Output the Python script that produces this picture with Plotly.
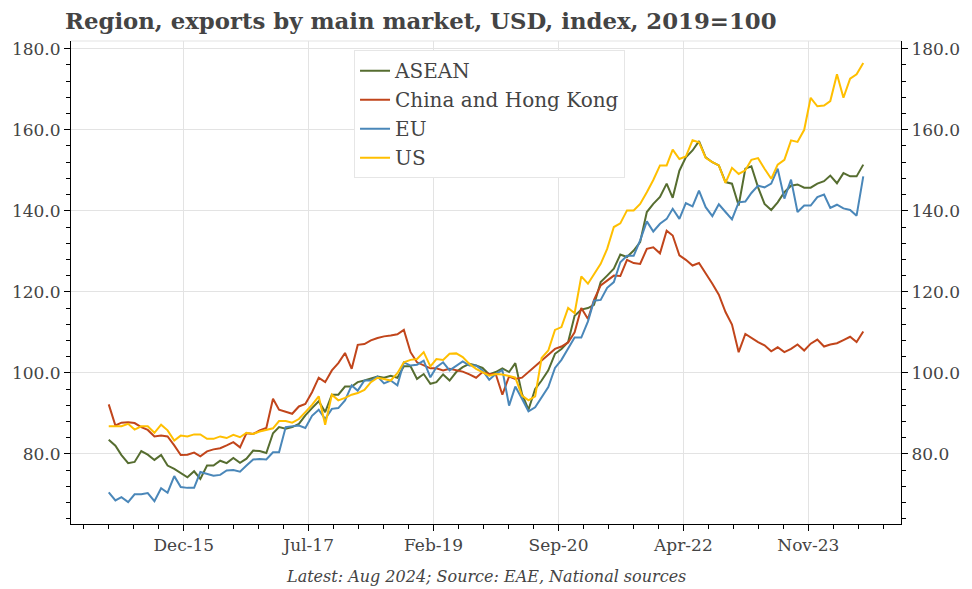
import pandas as pd
import plotly.graph_objects as go

# ---------------- data (monthly, Jan 2015 - Aug 2024) ----------------
start_month = "2015-01-01"
n_months = 116

asean = [83.5, 82.0, 79.7, 77.7, 78.0, 80.7, 79.8, 78.5, 79.7, 77.1, 76.3, 75.2, 74.2, 75.7, 73.8, 77.1,
         77.1, 78.3, 77.7, 79.0, 77.8, 78.8, 80.8, 80.7, 80.2, 85.1, 86.6, 86.2, 86.6, 87.4, 89.5, 91.3,
         93.0, 90.3, 94.6, 94.6, 96.6, 96.6,
         97.7, 98.1, 98.5, 99.1, 98.8, 99.3, 98.8, 101.6, 101.6, 98.5, 99.7, 97.3, 97.7, 99.6, 98.1,
         100.2, 101.4, 102.2, 101.8,
         101.2, 99.6, 100.2, 101.1, 100.2, 102.4, 94.8, 90.9, 96.0, 98.1, 100.6, 104.7, 105.9, 107.6,
         114.1, 115.6, 116.0, 116.8,
         122.4, 124.0, 125.7, 129.2, 128.6, 130.2, 132.3, 139.7, 141.7, 143.4, 146.7, 143.2,
         149.9, 153.2, 154.9, 157.2, 153.2, 152.0, 151.2, 147.1, 146.7, 141.3, 150.4, 151.0, 145.8,
         141.7, 140.2, 142.1, 144.6, 146.2, 146.5, 145.7, 145.7, 146.7, 147.3, 148.7, 146.8, 149.3,
         148.5, 148.5, 151.4]

china_hk = [92.2, 87.0, 87.7, 87.8, 87.6, 86.6, 85.9, 84.3, 84.5, 84.3, 82.1, 79.7, 79.8, 80.3, 79.4, 80.6,
            81.1, 81.4, 82.1, 82.9, 81.6, 85.1, 84.9, 85.8, 86.4, 93.6, 90.9, 90.4, 89.9, 91.7, 92.3, 95.2,
            98.8, 97.7, 100.6, 102.4, 104.9, 101.0,
            106.9, 107.1, 108.0, 108.6, 109.0, 109.2, 109.5, 110.6, 105.1, 102.6, 101.8, 101.1, 101.1,
            100.6, 101.0, 100.6, 100.3, 99.6, 98.8,
            100.2, 99.7, 99.7, 94.6, 99.1, 98.5, 98.8, 100.2, 101.4, 102.9, 104.3, 105.9, 106.5, 107.5,
            110.0, 116.0, 113.3, 118.0,
            121.6, 122.8, 124.0, 123.9, 127.9, 127.1, 126.9, 130.6, 131.0, 129.5, 135.1, 133.9,
            129.0, 127.9, 126.5, 127.1, 124.6, 122.0, 119.3, 115.0, 111.9, 105.1, 109.6, 108.6, 107.6,
            106.8, 105.3, 106.3, 105.1, 105.9, 107.0, 105.5, 107.2, 108.2, 106.5, 107.0, 107.3, 108.1,
            108.9, 107.6, 110.2]

eu = [70.5, 68.5, 69.3, 68.1, 70.0, 70.0, 70.3, 68.3, 71.5, 70.4, 74.5, 71.8, 71.6, 71.6, 75.5, 75.1,
      74.6, 74.8, 75.9, 76.0, 75.6, 77.1, 78.6, 78.7, 78.6, 80.4, 80.4, 86.6, 86.8, 87.0, 86.4, 89.4,
      90.9, 88.6, 91.1, 91.3, 93.2, 96.9,
      95.6, 98.1, 98.1, 99.1, 97.4, 98.1, 96.9, 102.6, 101.8, 102.0, 103.0, 98.9, 101.4, 102.6, 100.6,
      101.8, 102.8, 101.8, 101.8,
      100.6, 98.3, 99.7, 100.7, 91.9, 96.6, 93.6, 90.5, 91.5, 94.0, 96.5, 101.2, 103.2, 106.0,
      108.7, 108.7, 112.7, 117.8,
      118.0, 121.0, 122.4, 127.3, 128.9, 128.9, 132.7, 137.4, 134.9, 136.8, 138.0, 140.5,
      138.0, 141.9, 141.1, 145.0, 140.9, 138.7, 141.6, 139.7, 137.9, 142.1, 142.3, 144.4, 146.2,
      145.8, 146.7, 150.4, 143.0, 147.7, 139.7, 141.3, 141.3, 143.4, 144.0, 140.7, 141.5, 140.6,
      140.2, 138.8, 148.5]

us = [86.8, 86.8, 86.8, 87.4, 86.0, 86.8, 86.8, 85.2, 87.2, 85.8, 83.3, 84.5, 84.3, 84.8, 84.8, 83.7,
      83.7, 84.3, 83.9, 84.7, 84.1, 85.2, 84.9, 85.5, 85.9, 86.3, 88.1, 88.1, 87.7, 88.6, 90.3, 92.1,
      94.2, 87.2, 94.6, 93.2, 93.8, 94.6,
      95.0, 95.8, 97.7, 98.8, 98.5, 98.1, 99.9, 102.6, 103.2, 103.4, 105.1, 101.6, 103.4, 103.2, 104.7,
      104.8, 103.9, 102.2, 101.0,
      100.2, 99.3, 99.7, 99.6, 99.2, 98.8, 94.4, 93.2, 94.2, 103.7, 105.5, 110.6, 111.3, 116.0,
      114.7, 123.8, 122.0, 124.4,
      126.9, 130.6, 136.0, 136.9, 140.1, 140.1, 141.7, 144.6, 147.6, 151.2, 151.2, 155.1,
      152.8, 153.4, 157.4, 156.9, 153.1, 152.0, 151.2, 146.9, 150.6, 149.1, 150.0, 152.6, 153.0,
      150.4, 147.9, 151.4, 152.6, 157.4, 157.0, 160.0, 167.9, 165.8, 166.0, 167.1, 173.7, 167.9,
      172.6, 173.7, 176.5]

series_names = ["ASEAN", "China and Hong Kong", "EU", "US"]
x_tick_labels = ["Dec-15", "Jul-17", "Feb-19", "Sep-20", "Apr-22", "Nov-23"]
y_tick_values = [80, 100, 120, 140, 160, 180]

title_text = "Region, exports by main market, USD, index, 2019=100"
caption_text = "Latest: Aug 2024; Source: EAE, National sources"

# ---------------- styling ----------------
colors = ["#566d30", "#c1451b", "#4a87b9", "#ffbf00"]
FONT = "Georgia, 'DejaVu Serif', serif"
TXT = "#444444"
GRID = "#e3e3e3"

dates = pd.date_range(start_month, periods=n_months, freq="MS")
span = dates[-1] - dates[0]
x_range = [dates[0] - span * 0.05, dates[-1] + span * 0.05]

# tick positions (evenly spaced, ~19 months apart)
first_tick = pd.Timestamp("2015-12-15")
step = pd.Timedelta(days=579.4)
major_ticks = [first_tick + step * k for k in range(len(x_tick_labels))]
minor_ticks = [first_tick + step / 5 * k for k in range(-5, 30)]
minor_ticks = [t for t in minor_ticks if x_range[0] <= t <= x_range[1]]

all_vals = asean + china_hk + eu + us
vmin, vmax = min(all_vals), max(all_vals)
y_range = [vmin - 0.05 * (vmax - vmin), vmax + 0.05 * (vmax - vmin)]

fig = go.Figure()
for name, vals, col in zip(series_names, [asean, china_hk, eu, us], colors):
    fig.add_trace(go.Scatter(x=dates, y=vals, mode="lines", name=name,
                             line=dict(color=col, width=2)))
# invisible trace for the mirrored right axis
fig.add_trace(go.Scatter(x=dates, y=us, mode="lines", yaxis="y2", showlegend=False,
                         line=dict(width=0, color="rgba(0,0,0,0)"), hoverinfo="skip"))

axis_common = dict(showline=True, linecolor="black", linewidth=1, ticks="outside",
                   ticklen=6, tickcolor="black", tickfont=dict(family=FONT, size=17, color=TXT),
                   zeroline=False)

fig.update_layout(
    width=972, height=589,
    margin=dict(l=66, r=65, t=41, b=65),
    paper_bgcolor="white", plot_bgcolor="white",
    font=dict(family=FONT, color=TXT),
    title=dict(text="<b>" + title_text + "</b>", x=65 / 972, xanchor="left",
               y=1 - 21 / 589, yanchor="middle", yref="container",
               font=dict(family=FONT, size=22.8, color=TXT)),
    xaxis=dict(type="date", range=x_range, tickmode="array", tickvals=major_ticks,
               ticktext=x_tick_labels, showgrid=True, gridcolor=GRID, gridwidth=1,
               minor=dict(tickmode="array", tickvals=minor_ticks, ticks="outside", ticklen=4,
                          tickcolor="black", showgrid=False),
               **axis_common),
    yaxis=dict(range=y_range, tickmode="array", tickvals=y_tick_values, tickformat=".1f",
               showgrid=True, gridcolor=GRID, gridwidth=1,
               minor=dict(dtick=4, tick0=0, ticks="outside", ticklen=4, tickcolor="black",
                          showgrid=False),
               **axis_common),
    yaxis2=dict(range=y_range, overlaying="y", side="right", tickmode="array",
                tickvals=y_tick_values, tickformat=".1f", showgrid=False,
                minor=dict(dtick=4, tick0=0, ticks="outside", ticklen=4, tickcolor="black",
                           showgrid=False),
                **axis_common),
    legend=dict(x=0.341, y=0.981, xanchor="left", yanchor="top",
                bgcolor="white", bordercolor="#e6e6e6", borderwidth=1,
                font=dict(family=FONT, size=20, color=TXT), itemwidth=30),
    showlegend=True,
)

# light top border
fig.add_shape(type="line", xref="paper", yref="paper", x0=0, x1=1, y0=1, y1=1,
              line=dict(color=GRID, width=1))

fig.add_annotation(text="<i>" + caption_text + "</i>", xref="paper", yref="paper",
                   x=0.5, y=-(577 - 524) / 483.3, xanchor="center", yanchor="middle",
                   showarrow=False, font=dict(family=FONT, size=16, color=TXT))

fig.write_html("out.html", config={"displayModeBar": False},
               post_script="document.body.style.margin='0px';document.body.style.overflow='hidden';")
